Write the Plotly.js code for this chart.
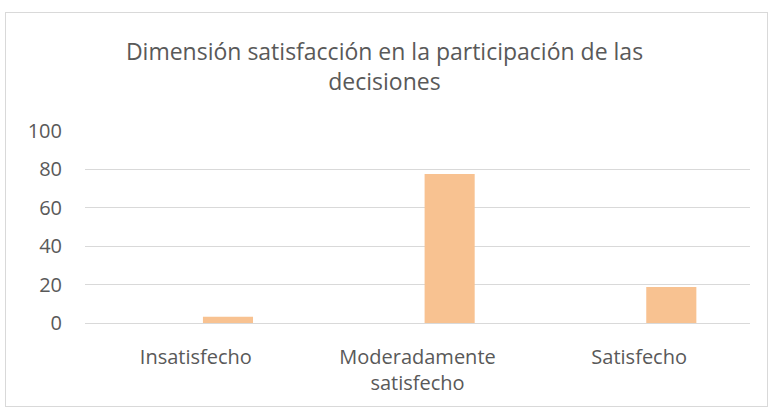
<!DOCTYPE html>
<html>
<head>
<meta charset="utf-8">
<script src="https://cdn.plot.ly/plotly-3.0.1.min.js"></script>
<style>
  html, body { margin: 0; padding: 0; background: #fff; }
  #chart { width: 769px; height: 408px; }
  #frame { position: absolute; left: 5px; top: 12px; width: 763px; height: 395px;
           border: 1px solid #d9d9d9; box-sizing: border-box; pointer-events: none; }
</style>
</head>
<body>
<div id="chart"></div>
<div id="frame"></div>
<script>
const categories = ["Insatisfecho", "Moderadamente<br>satisfecho", "Satisfecho"];
const values = [3.2, 77.6, 18.8];
const yTicks = [0, 20, 40, 60, 80, 100];
const titleText = "Dimensión satisfacción en la participación de las<br>decisiones";

const font = "'Open Sans', 'Liberation Sans', sans-serif";
const grey = "#595959";

const trace = {
  type: "bar",
  x: categories,
  y: values,
  offset: 0.032,
  width: 0.226,
  marker: { color: "#F8C291" },
  hoverinfo: "x+y"
};

const layout = {
  width: 769,
  height: 408,
  margin: { l: 85, r: 19, t: 131, b: 84.5 },
  paper_bgcolor: "rgba(0,0,0,0)",
  plot_bgcolor: "rgba(0,0,0,0)",
  showlegend: false,
  title: {
    text: titleText,
    font: { family: font, size: 23, color: grey },
    x: 0.5, xref: "container", xanchor: "center",
    y: 1 - 60 / 408, yref: "container", yanchor: "top"
  },
  xaxis: {
    type: "category",
    showgrid: false,
    showline: false,
    zeroline: false,
    ticks: "",
    tickfont: { family: font, size: 20, color: grey },
    ticklabelstandoff: 20
  },
  yaxis: {
    range: [0, 100],
    tickvals: yTicks,
    ticktext: yTicks.map(String),
    showgrid: true,
    gridcolor: "#d9d9d9",
    gridwidth: 1,
    zeroline: true,
    zerolinecolor: "#d9d9d9",
    zerolinewidth: 1,
    showline: false,
    ticks: "",
    tickfont: { family: font, size: 20, color: grey },
    ticklabelstandoff: 22
  }
};

Plotly.newPlot("chart", [trace], layout, { displayModeBar: false, staticPlot: true });
</script>
</body>
</html>
